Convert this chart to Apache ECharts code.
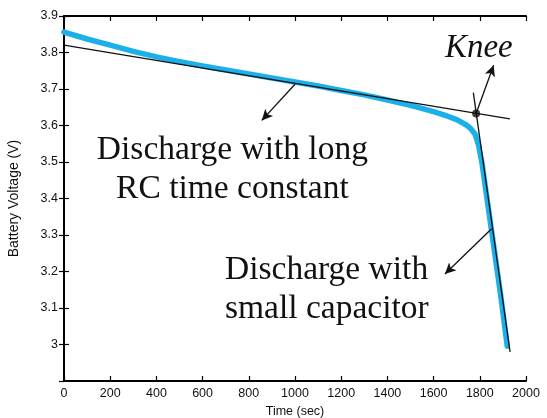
<!DOCTYPE html>
<html>
<head>
<meta charset="utf-8">
<script src="https://cdn.jsdelivr.net/npm/echarts@6/dist/echarts.min.js"></script>
<style>
  html, body { margin: 0; padding: 0; background: #fff; }
  #chart { width: 547px; height: 418px; }
</style>
</head>
<body>
<div id="chart"></div>
<script>
// measured battery discharge (blue trace)
const timeSec = [0, 100, 200, 300, 400, 500, 600, 700, 800, 900, 1000, 1100, 1200, 1300, 1400,
  1500, 1600, 1650, 1700, 1740, 1760, 1780, 1795, 1810, 1830, 1860, 1890, 1919];
const voltage = [3.856, 3.837, 3.820, 3.803, 3.788, 3.775, 3.763, 3.752, 3.741, 3.730, 3.719,
  3.708, 3.696, 3.684, 3.670, 3.655, 3.638, 3.628, 3.616, 3.602, 3.592, 3.576, 3.545, 3.495,
  3.405, 3.271, 3.137, 2.995];

// the two fitted straight lines and their crossing
const flatFit = [[0, 3.82], [1930, 3.618]];
const steepFit = [[1772, 3.69], [1931, 2.98]];
const kneePoint = [1784, 3.633];

// arrows: [from, to]
const arrows = [
  [[1784, 3.633], [1860, 3.765]],
  [[1000, 3.713], [856, 3.614]],
  [[1851, 3.317], [1649, 3.193]]
];

// text labels: [x, y, text, align, italic]
const notes = [
  [729, 3.478, 'Discharge with long\nRC time constant', 'center', false],
  [697, 3.150, 'Discharge with\nsmall capacitor', 'left', false],
  [1649, 3.812, 'Knee', 'left', true]
];

const xTicks = { min: 0, max: 2000, step: 200 };
const yTicks = { min: 2.9, max: 3.9, step: 0.1 };

const axisFont = 'Liberation Sans, Arial, Helvetica, sans-serif';
const serifFont = 'Liberation Serif, Times New Roman, serif';

let chart = echarts.init(document.getElementById('chart'));

const axisLine = { show: true, lineStyle: { color: '#000', width: 2 } };
const tick = { show: true, inside: true, length: 5, lineStyle: { color: '#000', width: 1.2 } };

let option = {
  animation: false,
  grid: { left: 64, right: 21, top: 16, bottom: 37, containLabel: false, outerBoundsMode: 'none' },
  xAxis: [
    {
      type: 'value', min: xTicks.min, max: xTicks.max, interval: xTicks.step,
      name: 'Time (sec)', nameLocation: 'middle', nameGap: 23,
      nameTextStyle: { fontFamily: axisFont, fontSize: 12.5, color: '#111' },
      axisLine: axisLine, axisTick: tick, splitLine: { show: false },
      axisLabel: { fontFamily: axisFont, fontSize: 12.5, color: '#111', margin: 6, formatter: v => String(v) }
    },
    {
      type: 'value', position: 'top', min: xTicks.min, max: xTicks.max, interval: xTicks.step,
      axisLine: axisLine, axisTick: tick, splitLine: { show: false }, axisLabel: { show: false }
    }
  ],
  yAxis: [
    {
      type: 'value', min: yTicks.min, max: yTicks.max, interval: yTicks.step,
      name: 'Battery Voltage (V)', nameLocation: 'middle', nameGap: 43, nameRotate: 90,
      nameTextStyle: { fontFamily: axisFont, fontSize: 14, color: '#111' },
      axisLine: axisLine, axisTick: tick, splitLine: { show: false },
      axisLabel: {
        fontFamily: axisFont, fontSize: 12.5, color: '#111', margin: 6, showMinLabel: false,
        formatter: v => String(+v.toFixed(1))
      }
    },
    {
      type: 'value', position: 'right', min: yTicks.min, max: yTicks.max, interval: yTicks.step,
      axisLine: axisLine, axisTick: tick, splitLine: { show: false }, axisLabel: { show: false }
    }
  ],
  series: [
    {
      type: 'line',
      data: timeSec.map((t, i) => [t, voltage[i]]),
      showSymbol: false, smooth: false,
      lineStyle: { color: '#1cb0ea', width: 5.5, join: 'round', cap: 'round' },
      silent: true, z: 2
    },
    {
      type: 'line', data: flatFit, showSymbol: false,
      lineStyle: { color: '#111', width: 1.3 }, silent: true, z: 3
    },
    {
      type: 'line', data: steepFit, showSymbol: false,
      lineStyle: { color: '#111', width: 1.3 }, silent: true, z: 3,
      markLine: {
        silent: true, symbol: ['none', 'arrow'], symbolSize: [8, 11],
        lineStyle: { color: '#111', width: 1.3, type: 'solid' },
        label: { show: false },
        data: arrows.map(a => [{ coord: a[0] }, { coord: a[1] }])
      }
    },
    {
      type: 'scatter', data: [kneePoint], symbolSize: 8,
      itemStyle: { color: '#111' }, silent: true, z: 4
    },
    {
      type: 'scatter', symbolSize: 0, silent: true, z: 5,
      data: notes.map(n => ({
        value: [n[0], n[1]],
        label: {
          show: true, position: 'inside', formatter: n[2], align: n[3], verticalAlign: 'middle',
          fontFamily: serifFont, fontSize: n[4] ? 33 : 33.5, fontStyle: n[4] ? 'italic' : 'normal',
          lineHeight: 39, color: '#111', opacity: 1, textBorderWidth: 0
        }
      }))
    }
  ]
};

chart.setOption(option);
</script>
</body>
</html>
